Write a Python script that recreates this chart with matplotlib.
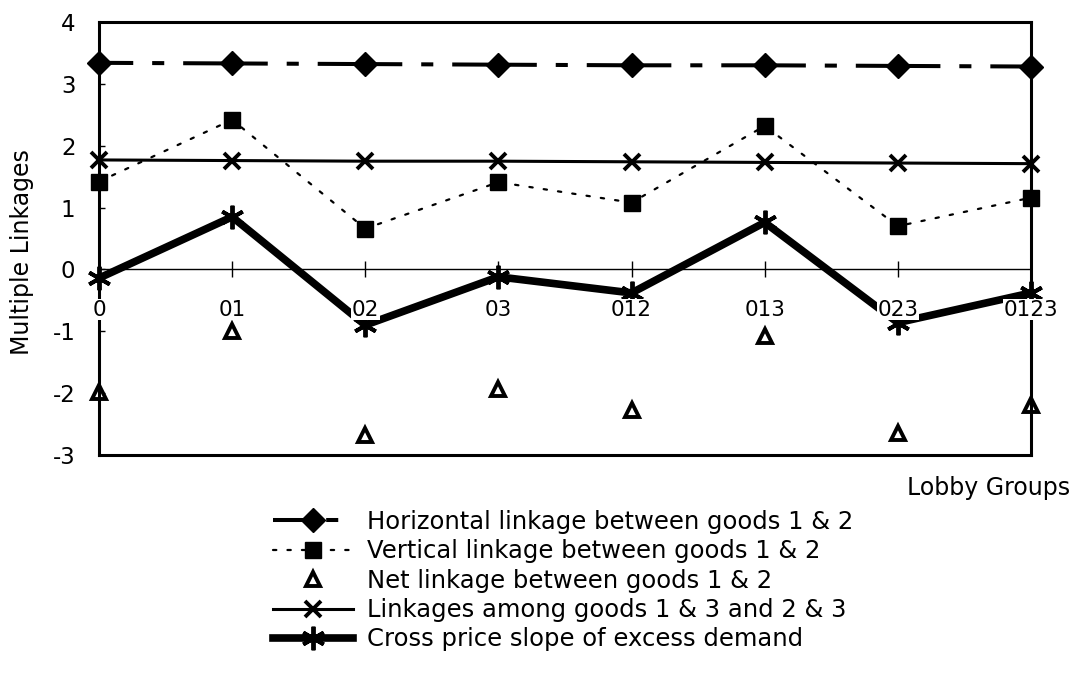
import matplotlib
matplotlib.use("Agg")
import matplotlib.pyplot as plt

plt.rcParams['font.family'] = ['DejaVu Sans']
plt.rcParams['axes.unicode_minus'] = False

groups = ["0", "01", "02", "03", "012", "013", "023", "0123"]
horizontal = [3.34, 3.33, 3.32, 3.31, 3.30, 3.30, 3.29, 3.28]
vertical = [1.42, 2.42, 0.66, 1.41, 1.08, 2.32, 0.70, 1.16]
net = [-1.98, -1.00, -2.67, -1.93, -2.27, -1.07, -2.64, -2.19]
among = [1.77, 1.76, 1.75, 1.75, 1.74, 1.73, 1.72, 1.71]
cross = [-0.14, 0.85, -0.90, -0.12, -0.38, 0.76, -0.86, -0.38]
yticks = [-3, -2, -1, 0, 1, 2, 3, 4]

labels = ["Horizontal linkage between goods 1 & 2",
          "Vertical linkage between goods 1 & 2",
          "Net linkage between goods 1 & 2",
          "Linkages among goods 1 & 3 and 2 & 3",
          "Cross price slope of excess demand"]

W, H = 1077, 677
fig = plt.figure(figsize=(W / 100, H / 100), dpi=100)
ax = fig.add_axes([99 / W, 1 - 455 / H, (1031 - 99) / W, (455 - 22) / H])
x = list(range(len(groups)))

# zero line with cross ticks
ax.axhline(0, color='black', lw=1.0, zorder=1)
ax.plot(x, [0] * len(x), ls='none', marker='|', ms=11, mew=1.0, color='black', zorder=1)

hz_style = (12.5, (21, 4.7, 3, 4.7))
l1, = ax.plot(x, horizontal, color='black', lw=2.9, ls=hz_style, marker='D', ms=12,
              dash_capstyle='butt', zorder=3, clip_on=False)
l2, = ax.plot(x, vertical, color='black', lw=1.6, ls=(0, (1.5, 5)), marker='s', ms=12,
              dash_capstyle='round', zorder=3, clip_on=False)
l3, = ax.plot(x, net, ls='none', marker='^', ms=10.5, mfc='white', mec='black', mew=2.8,
              zorder=3, clip_on=False)
l4, = ax.plot(x, among, color='black', lw=2.2, marker='x', ms=11, mew=2.8, zorder=3, clip_on=False)
l5, = ax.plot(x, cross, color='black', lw=5.5, marker=(6, 2, 0), ms=17, mew=2.8, zorder=4,
              clip_on=False)

# category labels with white background
for xi, g in zip(x, groups):
    ax.text(xi, -0.65, g, ha='center', va='center', fontsize=15.5,
            bbox=dict(facecolor='white', edgecolor='none', pad=0.5), zorder=6)

ax.set_xlim(0, len(groups) - 1)
ax.set_ylim(-3, 4)
ax.set_yticks(yticks)
ax.set_xticks([])
ax.tick_params(axis='y', direction='in', length=4, width=1, pad=17, labelsize=16.5)
for s in ax.spines.values():
    s.set_linewidth(2.2)
    s.set_zorder(5)

fig.text(22 / W, 1 - 252 / H, "Multiple Linkages", rotation=90, ha='center', va='center', fontsize=17)
fig.text(1070 / W, 1 - 488 / H, "Lobby Groups", ha='right', va='center', fontsize=17)

fig.legend([l1, l2, l3, l4, l5], labels, loc='upper left',
           bbox_to_anchor=(273 / W, 1 - 510 / H), frameon=False, fontsize=17.5,
           handlelength=3.3, handletextpad=0.55, labelspacing=0.22, borderpad=0,
           borderaxespad=0, numpoints=1)

fig.savefig("out.png", dpi=100)
